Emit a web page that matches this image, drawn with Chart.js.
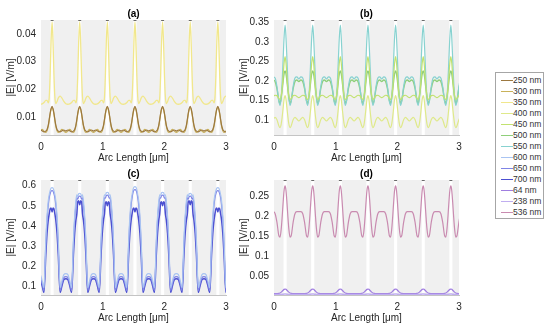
<!DOCTYPE html>
<html><head><meta charset="utf-8">
<script src="https://cdn.jsdelivr.net/npm/chart.js@4.4.0/dist/chart.umd.min.js"></script>
<style>
html,body{margin:0;padding:0;background:#fff;width:550px;height:335px;overflow:hidden;font-family:"Liberation Sans",Arial,sans-serif;}
.panel{position:absolute;width:240px;height:165px;}
#legend{position:absolute;left:495px;top:72px;width:47px;height:145px;border:1px solid #a6a6a6;background:#fff;}
.item{position:absolute;left:0;height:11px;width:47px;font-size:8.5px;line-height:11px;color:#333;}
.item .sw{position:absolute;left:5px;top:5px;width:12px;height:1px;}
.item .tx{position:absolute;left:17px;top:0;white-space:nowrap;}
</style></head>
<body>
<div class="panel" style="left:0;top:0"><canvas id="ca" width="240" height="165"></canvas></div>
<div class="panel" style="left:233px;top:0"><canvas id="cb" width="240" height="165"></canvas></div>
<div class="panel" style="left:0;top:160px"><canvas id="cc" width="240" height="165"></canvas></div>
<div class="panel" style="left:233px;top:160px"><canvas id="cd" width="240" height="165"></canvas></div>
<div id="legend"></div>
<script>
// ---- data ----
// peak positions along the arc (um)
const peakPositions = [0.18, 0.628, 1.076, 1.524, 1.972, 2.42, 2.868];
// sample offsets after each peak (um) at which the profiles were read
const arcOffsets = [0, .015, .03, .045, .06, .08, .10, .13, .16, .19, .223, .256, .286, .316, .346, .366, .386, .401, .416, .431];
const xTicks = [0, 1, 2, 3];

// panel (a)
const e250 = [.0138, .0130, .0113, .0091, .0071, .0055, .0049, .0046, .0050, .0053, .0049, .0053, .0050, .0046, .0049, .0055, .0071, .0091, .0113, .0130];
const e300 = [.0135, .0127, .0110, .0088, .0067, .0050, .0044, .0049, .0055, .0049, .0044, .0049, .0055, .0049, .0044, .0050, .0067, .0088, .0110, .0127];
const e350 = [.0443, .037, .025, .0172, .0148, .0156, .0168, .0175, .0168, .0156, .0148, .0146, .0147, .0152, .0160, .0160, .0151, .0170, .025, .037];
// panel (b)
const e400 = [.162, .152, .13, .108, .09, .08, .085, .1, .106, .102, .097, .102, .106, .1, .085, .08, .09, .108, .13, .152];
const e450 = [.262, .245, .212, .182, .162, .152, .155, .162, .163, .16, .157, .16, .163, .162, .155, .152, .162, .182, .212, .245];
const e500 = [.225, .218, .2, .178, .158, .142, .15, .18, .198, .202, .198, .202, .198, .18, .15, .142, .158, .178, .2, .218];
const e550 = [.343, .31, .255, .2, .16, .137, .148, .185, .207, .210, .205, .210, .207, .185, .148, .137, .16, .2, .255, .31];
// panel (c)
const e600 = [.59, .588, .575, .555, .525, .45, .33, .095, .13, .16, .165, .16, .13, .095, .33, .45, .525, .555, .575, .588];
const e650 = [.575, .573, .56, .54, .505, .43, .31, .08, .115, .145, .15, .145, .115, .08, .31, .43, .505, .54, .56, .573];
const e700 = [.47, .49, .485, .46, .43, .365, .26, .072, .105, .135, .14, .135, .105, .072, .26, .365, .43, .46, .485, .49];
// per-peak tip values for panel (c)
const tips600 = [.59, .562, .567, .595, .567, .562, .59];
const tips650 = [.575, .548, .553, .58, .553, .548, .575];
const tips700 = [.47, .505, .50, .47, .50, .505, .47];
// panel (d)
const e64  = [.017, .0162, .014, .0115, .0092, .0072, .0062, .0058, .0057, .0057, .0057, .0057, .0057, .0058, .0062, .0072, .0092, .0115, .014, .0162];
const e238 = [.0045, .0044, .0041, .0037, .0034, .0031, .003, .003, .003, .003, .003, .003, .003, .003, .003, .0031, .0034, .0037, .0041, .0044];
const e536 = [.277, .265, .235, .2, .17, .148, .152, .185, .207, .212, .212, .212, .207, .185, .152, .148, .17, .2, .235, .265];

const legendLabels = ['250 nm','300 nm','350 nm','400 nm','450 nm','500 nm','550 nm','600 nm','650 nm','700 nm','64 nm','238 nm','536 nm'];
const yTicksA = [0.01, 0.02, 0.03, 0.04];
const yTicksB = [0.1, 0.15, 0.2, 0.25, 0.3, 0.35];
const yTicksC = [0.1, 0.2, 0.3, 0.4, 0.5, 0.6];
const yTicksD = [0.05, 0.1, 0.15, 0.2, 0.25];

// ---- styles ----
const seriesColors = {
  '250 nm':'#9c7840','300 nm':'#c9b25a','350 nm':'#f1e78c',
  '400 nm':'#dfe98a','450 nm':'#c2e270','500 nm':'#8fcf7a','550 nm':'#88d2d0',
  '600 nm':'#a9c4f2','650 nm':'#7f84e6','700 nm':'#4b4fd1',
  '64 nm':'#a07ee0','238 nm':'#c0aef0','536 nm':'#c98bb0'
};
const FONT = '"Liberation Sans", Arial, sans-serif';
const TXT = '#262626';
const gapHalfWidth = 0.025;

function buildSeries(profile, tips) {
  const step = peakPositions[1] - peakPositions[0];
  const starts = [peakPositions[0] - step].concat(peakPositions);
  const pts = [];
  starts.forEach((p, k) => {
    arcOffsets.forEach((o, i) => {
      let v = profile[i];
      if (tips) {
        let ti = -1;
        if (o <= 0.03) ti = k - 1;
        else if (o >= 0.416) ti = k;
        if (ti >= 0 && ti < tips.length) v += tips[ti] - profile[0];
      }
      pts.push({x: +(p + o).toFixed(4), y: v});
    });
  });
  return pts;
}

const bgPlugin = {
  id: 'bgPatches',
  beforeDraw(chart) {
    const {ctx, chartArea: a, scales: {x}} = chart;
    ctx.save();
    ctx.fillStyle = '#f0f0f0';
    ctx.fillRect(a.left, a.top, a.right - a.left, a.bottom - a.top);
    ctx.fillStyle = '#ffffff';
    peakPositions.forEach(p => {
      const x0 = x.getPixelForValue(p - gapHalfWidth), x1 = x.getPixelForValue(p + gapHalfWidth);
      ctx.fillRect(x0, a.top, x1 - x0, a.bottom - a.top);
    });
    ctx.fillStyle = '#6a6a6a';
    peakPositions.forEach(p => {
      const xc = x.getPixelForValue(p);
      ctx.fillRect(xc - 1.5, a.top, 3, 1);
    });
    ctx.restore();
  }
};

function makePanel(id, title, yMin, yMax, yTicks, series) {
  const font = {family: FONT, size: 10};
  new Chart(document.getElementById(id), {
    type: 'line',
    data: {
      datasets: series.map(s => ({
        label: s.label,
        data: buildSeries(s.values, s.tips),
        borderColor: seriesColors[s.label],
        borderWidth: s.width || 1.1,
        pointRadius: 0,
        fill: false,
        cubicInterpolationMode: 'monotone'
      }))
    },
    options: {
      responsive: false, animation: false, devicePixelRatio: 1,
      layout: {padding: {left: 0, right: 14, top: 0, bottom: 0}},
      plugins: {
        legend: {display: false}, tooltip: {enabled: false},
        title: {display: true, text: title, color: '#000', fullSize: false,
          font: {family: FONT, size: 10, weight: 'bold'}, padding: {top: 8, bottom: 0}}
      },
      scales: {
        x: {
          type: 'linear', min: 0, max: 3,
          grid: {display: false, drawTicks: false},
          border: {display: true, color: '#c4c4c4'},
          afterBuildTicks: s => { s.ticks = xTicks.map(v => ({value: v})); },
          ticks: {font, color: TXT, padding: 6, maxRotation: 0, callback: v => String(v)},
          title: {display: true, text: 'Arc Length [\u03bcm]', font, color: TXT, padding: {top: 0, bottom: 1}},
          afterFit: s => { s.height = 30; }
        },
        y: {
          min: yMin, max: yMax,
          grid: {display: false, drawTicks: false},
          border: {display: false},
          afterBuildTicks: s => { s.ticks = yTicks.map(v => ({value: v})); },
          ticks: {font, color: TXT, padding: 5, callback: v => String(v)},
          title: {display: true, text: '|E| [V/m]', font, color: TXT, padding: {top: 5, bottom: 0}},
          afterFit: s => { s.width = 41; }
        }
      }
    },
    plugins: [bgPlugin]
  });
}

makePanel('ca', '(a)', 0.0035, 0.045, yTicksA, [
  {label: '250 nm', values: e250, width: 1.2},
  {label: '300 nm', values: e300, width: 1.2},
  {label: '350 nm', values: e350, width: 1.3}
]);
makePanel('cb', '(b)', 0.061, 0.356, yTicksB, [
  {label: '400 nm', values: e400, width: 1.2},
  {label: '450 nm', values: e450, width: 1.2},
  {label: '550 nm', values: e550, width: 1.2},
  {label: '500 nm', values: e500, width: 1.4}
]);
makePanel('cc', '(c)', 0.059, 0.628, yTicksC, [
  {label: '600 nm', values: e600, tips: tips600, width: 1.2},
  {label: '650 nm', values: e650, tips: tips650, width: 1.2},
  {label: '700 nm', values: e700, tips: tips700, width: 1.5}
]);
makePanel('cd', '(d)', 0.002, 0.292, yTicksD, [
  {label: '536 nm', values: e536, width: 1.2},
  {label: '238 nm', values: e238, width: 1.5},
  {label: '64 nm', values: e64, width: 1.2}
]);

// legend
const lg = document.getElementById('legend');
legendLabels.forEach((lab, i) => {
  const it = document.createElement('div');
  it.className = 'item';
  it.style.top = (1.5 + i * 11.08) + 'px';
  const sw = document.createElement('div');
  sw.className = 'sw';
  sw.style.background = seriesColors[lab];
  const tx = document.createElement('div');
  tx.className = 'tx';
  tx.textContent = lab;
  it.appendChild(sw); it.appendChild(tx);
  lg.appendChild(it);
});
</script>
</body></html>
